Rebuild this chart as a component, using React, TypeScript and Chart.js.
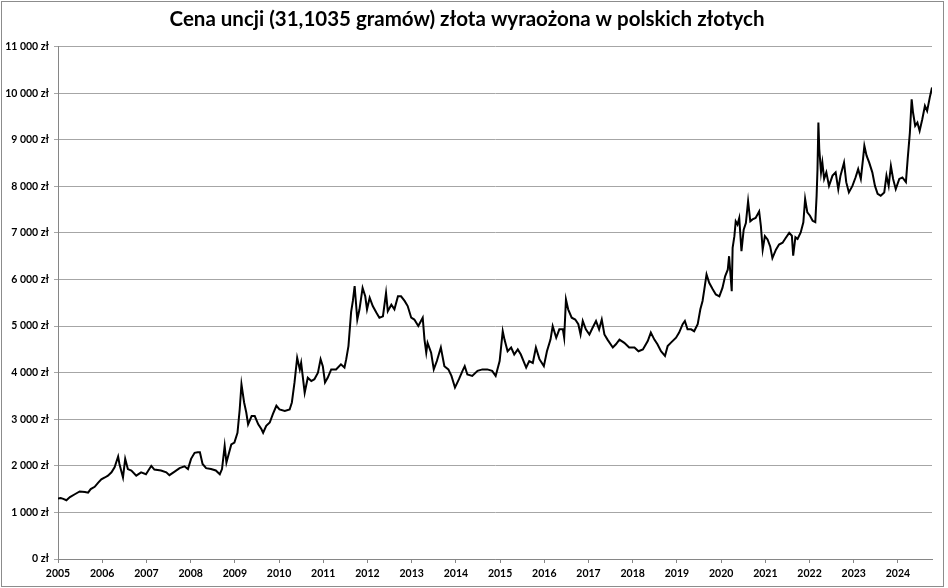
import React, { useEffect, useRef } from "react";
import { Chart, registerables } from "chart.js";

Chart.register(...registerables);

// decimal year of each reading
const dates: number[] = [
  2005.0, 2005.06, 2005.12, 2005.19, 2005.27, 2005.38, 2005.49, 2005.61, 2005.68, 2005.74, 2005.83, 2005.91, 2005.98,
  2006.06, 2006.13, 2006.21, 2006.28, 2006.36, 2006.39, 2006.47, 2006.52, 2006.58, 2006.66, 2006.77, 2006.88, 2006.99,
  2007.11, 2007.18, 2007.33, 2007.45, 2007.52, 2007.63, 2007.75, 2007.86, 2007.94,
  2008.01, 2008.09, 2008.16, 2008.21, 2008.27, 2008.35, 2008.46, 2008.57, 2008.66, 2008.71, 2008.77, 2008.81, 2008.86, 2008.92, 2008.99,
  2009.06, 2009.11, 2009.15, 2009.21, 2009.26, 2009.3, 2009.38, 2009.45, 2009.53, 2009.6, 2009.64, 2009.71, 2009.79, 2009.86, 2009.94,
  2010.01, 2010.13, 2010.24, 2010.29, 2010.35, 2010.41, 2010.47, 2010.5, 2010.58, 2010.65, 2010.73, 2010.8, 2010.88, 2010.94, 2010.99,
  2011.04, 2011.1, 2011.18, 2011.29, 2011.4, 2011.48, 2011.52, 2011.57, 2011.63, 2011.67, 2011.71, 2011.77, 2011.82, 2011.89, 2011.95, 2011.99,
  2012.05, 2012.12, 2012.2, 2012.27, 2012.35, 2012.42, 2012.46, 2012.54, 2012.61, 2012.69, 2012.76, 2012.84, 2012.91, 2012.99,
  2013.06, 2013.15, 2013.25, 2013.29, 2013.33, 2013.36, 2013.44, 2013.5, 2013.57, 2013.66, 2013.74, 2013.83, 2013.9, 2013.98,
  2014.07, 2014.15, 2014.2, 2014.26, 2014.37, 2014.49, 2014.6, 2014.71, 2014.82, 2014.9, 2014.99,
  2015.06, 2015.1, 2015.17, 2015.25, 2015.32, 2015.4, 2015.47, 2015.59, 2015.66, 2015.74, 2015.81, 2015.89, 2015.99,
  2016.06, 2016.14, 2016.19, 2016.27, 2016.34, 2016.42, 2016.45, 2016.49, 2016.54, 2016.62, 2016.7, 2016.77, 2016.82, 2016.87, 2016.94,
  2017.02, 2017.09, 2017.17, 2017.24, 2017.3, 2017.36, 2017.43, 2017.55, 2017.62, 2017.7, 2017.81, 2017.92,
  2018.04, 2018.13, 2018.23, 2018.34, 2018.41, 2018.49, 2018.56, 2018.64, 2018.73, 2018.79, 2018.86, 2018.98,
  2019.05, 2019.13, 2019.18, 2019.24, 2019.32, 2019.39, 2019.47, 2019.53, 2019.58, 2019.62, 2019.67, 2019.73, 2019.81, 2019.88, 2019.96,
  2020.03, 2020.09, 2020.15, 2020.18, 2020.22, 2020.24, 2020.26, 2020.3, 2020.33, 2020.37, 2020.41, 2020.46, 2020.51, 2020.56, 2020.61, 2020.66, 2020.71, 2020.78, 2020.86, 2020.9, 2020.94, 2020.99,
  2021.05, 2021.11, 2021.16, 2021.24, 2021.31, 2021.39, 2021.46, 2021.54, 2021.6, 2021.63, 2021.68, 2021.73, 2021.8, 2021.86, 2021.9, 2021.95,
  2022.01, 2022.07, 2022.13, 2022.16, 2022.18, 2022.2, 2022.22, 2022.26, 2022.29, 2022.33, 2022.38, 2022.44, 2022.52, 2022.59, 2022.65, 2022.7, 2022.78, 2022.83, 2022.89, 2022.97,
  2023.04, 2023.1, 2023.16, 2023.21, 2023.24, 2023.29, 2023.35, 2023.42, 2023.48, 2023.54, 2023.61, 2023.69, 2023.74, 2023.79, 2023.84, 2023.89, 2023.95,
  2024.03, 2024.1, 2024.18, 2024.22, 2024.27, 2024.31, 2024.34, 2024.39, 2024.44, 2024.49, 2024.55, 2024.61, 2024.66, 2024.72, 2024.77,
];

// price of one ounce in PLN, same order as dates
const prices: number[] = [
  1300, 1310, 1290, 1262, 1330, 1390, 1450, 1440, 1425, 1500, 1550, 1640, 1710,
  1750, 1790, 1860, 1970, 2200, 2040, 1750, 2150, 1930, 1900, 1790, 1860, 1820,
  2000, 1920, 1900, 1860, 1800, 1870, 1950, 1990, 1930,
  2150, 2280, 2290, 2290, 2040, 1950, 1930, 1900, 1820, 1930, 2430, 2070, 2250, 2460, 2500,
  2710, 3210, 3750, 3360, 3140, 2890, 3070, 3070, 2890, 2790, 2710, 2860, 2930, 3110, 3290,
  3210, 3180, 3210, 3360, 3790, 4320, 4070, 4210, 3570, 3890, 3820, 3860, 4000, 4290, 4140,
  3790, 3890, 4070, 4070, 4180, 4110, 4290, 4570, 5300, 5540, 5860, 5140, 5360, 5820, 5640, 5360,
  5610, 5430, 5290, 5180, 5210, 5710, 5320, 5460, 5360, 5640, 5640, 5540, 5430, 5180,
  5140, 5000, 5180, 4710, 4430, 4640, 4430, 4070, 4250, 4540, 4140, 4070, 3930, 3680,
  3860, 4040, 4140, 3960, 3930, 4040, 4070, 4070, 4040, 3930, 4250,
  4890, 4710, 4460, 4540, 4390, 4500, 4390, 4110, 4250, 4210, 4540, 4290, 4140,
  4460, 4710, 5000, 4750, 4930, 4930, 4750, 5570, 5360, 5180, 5140, 5040, 4820, 5110, 4930,
  4820, 4960, 5110, 4930, 5140, 4820, 4710, 4540, 4610, 4710, 4640, 4540,
  4540, 4460, 4500, 4680, 4860, 4710, 4610, 4460, 4360, 4570, 4640, 4750,
  4860, 5040, 5110, 4930, 4930, 4890, 5040, 5360, 5540, 5790, 6110, 5930, 5790, 5680, 5640,
  5820, 6070, 6210, 6500, 6000, 5750, 6680, 6930, 7250, 7180, 7320, 6610, 7070, 7210, 7680, 7250, 7290, 7320, 7460, 7140, 6640, 6930,
  6860, 6710, 6460, 6640, 6750, 6790, 6890, 7000, 6940, 6510, 6910, 6870, 7010, 7230, 7730, 7440,
  7370, 7260, 7230, 7800, 8370, 9370, 8800, 8300, 8510, 8160, 8300, 8010, 8230, 8300, 7940, 8230, 8510, 8090, 7870, 8010,
  8190, 8370, 8160, 8590, 8870, 8660, 8510, 8300, 8010, 7840, 7800, 7870, 8230, 8010, 8440, 8160, 7940,
  8160, 8190, 8090, 8590, 9160, 9870, 9590, 9300, 9370, 9190, 9440, 9730, 9620, 9910, 10120,
];

const yearTicks = [
  2005, 2006, 2007, 2008, 2009, 2010, 2011, 2012, 2013, 2014,
  2015, 2016, 2017, 2018, 2019, 2020, 2021, 2022, 2023, 2024,
];
const priceTicks = [0, 1000, 2000, 3000, 4000, 5000, 6000, 7000, 8000, 9000, 10000, 11000];

const formatZl = (v: number): string =>
  String(v).replace(/\B(?=(\d{3})+(?!\d))/g, " ") + " zł";

const labelFont = { family: "Lato", size: 10.5, weight: "bold" as const };

const App: React.FC = () => {
  const chartRef = useRef<HTMLCanvasElement | null>(null);

  useEffect(() => {
    document.body.style.margin = "0";
    const ctx = chartRef.current?.getContext("2d");
    if (!ctx) return;

    const chart = new Chart(ctx, {
      type: "line",
      data: {
        datasets: [
          {
            data: dates.map((d, i) => ({ x: d, y: prices[i] })),
            borderColor: "#000000",
            borderWidth: 2,
            pointRadius: 0,
            tension: 0,
          },
        ],
      },
      options: {
        animation: false,
        responsive: true,
        maintainAspectRatio: false,
        layout: { padding: { top: 0, right: 11, bottom: 0, left: 0 } },
        plugins: {
          legend: { display: false },
          tooltip: { enabled: false },
          title: {
            display: true,
            text: "Cena uncji (31,1035 gramów) złota wyraożona w polskich złotych",
            color: "#000000",
            font: { family: "Lato", size: 20.5, weight: "bold" },
            padding: { top: 5, bottom: 15 },
          },
        },
        scales: {
          x: {
            type: "linear",
            min: 2005,
            max: 2024.77,
            afterBuildTicks: (scale) => {
              scale.ticks = yearTicks.map((v) => ({ value: v }));
            },
            afterFit: (scale) => {
              scale.height = 27;
            },
            grid: { drawOnChartArea: false, tickLength: 4, color: "#868686" },
            border: { color: "#868686" },
            ticks: {
              color: "#000000",
              font: labelFont,
              padding: 4,
              maxRotation: 0,
              autoSkip: false,
              callback: (v) => String(v),
            },
          },
          y: {
            min: 0,
            max: 11000,
            afterBuildTicks: (scale) => {
              scale.ticks = priceTicks.map((v) => ({ value: v }));
            },
            afterFit: (scale) => {
              scale.width = 56;
            },
            grid: { color: "#a6a6a6", tickLength: 4 },
            border: { color: "#868686" },
            ticks: {
              color: "#000000",
              font: labelFont,
              padding: 5,
              callback: (v) => formatZl(Number(v)),
            },
          },
        },
      },
    });

    return () => {
      chart.destroy();
    };
  }, []);

  return (
    <div
      style={{
        position: "absolute",
        left: 1,
        top: 1,
        width: 943,
        height: 586,
        boxSizing: "border-box",
        border: "1px solid #8c8c8c",
        background: "#ffffff",
      }}
    >
      <div style={{ position: "relative", width: 941, height: 584 }}>
        <canvas ref={chartRef}></canvas>
      </div>
    </div>
  );
};

export default App;
